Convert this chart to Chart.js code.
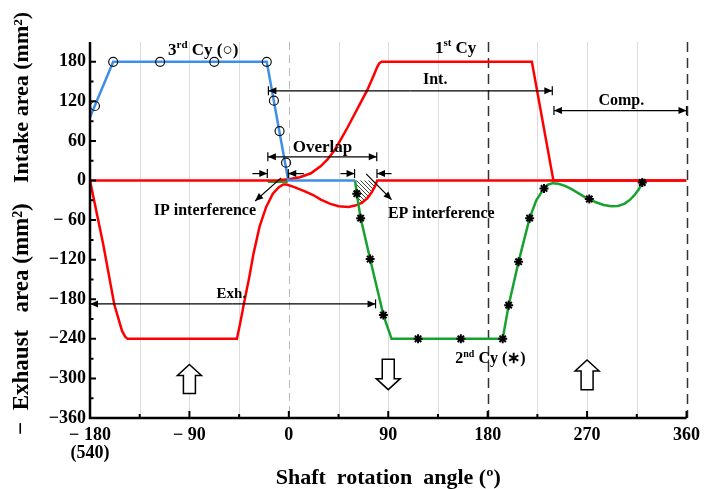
<!DOCTYPE html>
<html>
<head>
<meta charset="utf-8">
<script src="https://cdn.jsdelivr.net/npm/chart.js@4.4.1/dist/chart.umd.min.js"></script>
<style>
  html, body { margin: 0; padding: 0; background: #fff; }
  #wrap { width: 708px; height: 489px; }
</style>
</head>
<body>
<div id="wrap"><canvas id="chart" width="708" height="489"></canvas></div>
<script>
const FONT = '"Liberation Serif", "Times New Roman", serif';

// shaft angle (deg) / open area (mm2), exhaust is plotted negative
const intake1X = [-180, -19, -10, 0, 10, 20, 29, 35, 41, 47, 53, 59, 65, 71, 77, 80, 82, 84, 220, 239.5, 360];
const intake1Y = [0, 0, 0.5, 2, 5, 11, 22, 32, 45, 62, 80, 99, 118, 137, 160, 172, 178, 180, 180, 0, 0];

const exhaust1X = [-180, -168, -158, -151, -148, -146, -47, -44, -40.6, -36, -32, -26.5, -20.5, -14.5, -9, -5, -2, 5, 14, 22, 29, 37, 45, 54, 60, 66, 71, 75, 78, 80, 360];
const exhaust1Y = [0, -97, -188, -228, -237, -240, -240, -216, -186, -148, -111, -70, -40, -20, -10, -6, -6, -10, -16, -22, -29, -35, -39, -40, -38, -34, -27, -18, -9, 0, 0];

const intake3X = [-180, -159, -20, -0.5, 60];
const intake3Y = [96, 180, 180, 0, 0];
const intake3MarkX = [-175.5, -159, -116.5, -67.5, -20, -13.5, -8.4, -2.5];
const intake3MarkY = [113, 180, 180, 180, 180, 121, 75, 27];

const exhaust2X = [60, 61.5, 65, 73.6, 85.6, 93, 193.6, 199, 208, 218, 224, 231, 235, 239, 244, 250, 256, 262, 268, 272, 278, 285, 292, 298, 304, 309, 313, 317, 320];
const exhaust2Y = [0, -20, -57, -119, -204, -240, -240, -189, -123, -57, -30, -12, -6, -4, -5, -8, -13, -19, -25, -28, -33, -37, -39, -38.5, -35, -29, -22, -13, -3];
const exhaust2MarkX = [61.5, 65, 73.6, 85.6, 117, 155.7, 193.6, 199, 208, 218, 231, 272, 320];
const exhaust2MarkY = [-20, -57, -119, -204, -240, -240, -240, -189, -123, -57, -12, -28, -3];

const ipBitX = [-19, -1];
const ipBitY = [-1.5, -1.5];

const epHatchX = [60, 61.5, 63, 66, 71, 75, 78, 80];
const epHatchY = [0, -20, -36, -34, -27, -18, -9, 0];

const xTickValues = [-180, -90, 0, 90, 180, 270, 360];
const xTickLabels = [['− 180', '(540)'], '− 90', '0', '90', '180', '270', '360'];
const yTickValues = [180, 120, 60, 0, -60, -120, -180, -240, -300, -360];
const yTickLabels = ['180', '120', '60', '0', '− 60', '−120', '−180', '−240', '−300', '−360'];

const zip = (xs, ys) => xs.map((x, i) => ({ x, y: ys[i] }));

const hatch = (() => {
  const c = document.createElement('canvas');
  c.width = 4; c.height = 4;
  const g = c.getContext('2d');
  g.strokeStyle = '#444';
  g.lineWidth = 1;
  g.beginPath();
  g.moveTo(0, 0); g.lineTo(4, 4);
  g.moveTo(-1, 3); g.lineTo(1, 5);
  g.moveTo(3, -1); g.lineTo(5, 1);
  g.stroke();
  return g.createPattern(c, 'repeat');
})();

const arrowHead = (ctx, x, y, ang, len = 8, hw = 3.5) => {
  ctx.beginPath();
  ctx.moveTo(x, y);
  ctx.lineTo(x - len * Math.cos(ang) + hw * Math.sin(ang), y - len * Math.sin(ang) - hw * Math.cos(ang));
  ctx.lineTo(x - len * Math.cos(ang) - hw * Math.sin(ang), y - len * Math.sin(ang) + hw * Math.cos(ang));
  ctx.closePath();
  ctx.fill();
};

const arrow = (ctx, x1, y1, x2, y2, bar) => {
  ctx.beginPath();
  ctx.moveTo(x1, y1);
  ctx.lineTo(x2, y2);
  ctx.stroke();
  arrowHead(ctx, x2, y2, Math.atan2(y2 - y1, x2 - x1));
  if (bar) {
    ctx.beginPath();
    ctx.moveTo(x2, y2 - 4.5);
    ctx.lineTo(x2, y2 + 4.5);
    ctx.stroke();
  }
};

const drawRich = (ctx, parts, cx, cy, size) => {
  const fonts = parts.map(([, sup]) => `bold ${sup ? Math.round(size * 0.62) : size}px ${FONT}`);
  let w = 0;
  parts.forEach(([t], i) => { ctx.font = fonts[i]; w += ctx.measureText(t).width; });
  let x = cx - w / 2;
  ctx.textAlign = 'left';
  ctx.textBaseline = 'middle';
  parts.forEach(([t, sup], i) => {
    ctx.font = fonts[i];
    ctx.fillText(t, x, sup ? cy - size * 0.33 : cy);
    x += ctx.measureText(t).width;
  });
};

const hollowArrow = (ctx, px, yTip, yEnd) => {
  const dir = yEnd > yTip ? 1 : -1;
  const head = 11 * dir;
  ctx.beginPath();
  ctx.moveTo(px, yTip);
  ctx.lineTo(px + 12, yTip + head);
  ctx.lineTo(px + 6, yTip + head);
  ctx.lineTo(px + 6, yEnd);
  ctx.lineTo(px - 6, yEnd);
  ctx.lineTo(px - 6, yTip + head);
  ctx.lineTo(px - 12, yTip + head);
  ctx.closePath();
  ctx.fillStyle = '#fff';
  ctx.fill();
  ctx.lineWidth = 1.5;
  ctx.strokeStyle = '#000';
  ctx.stroke();
};

const decor = {
  id: 'decor',
  beforeDatasetsDraw(chart) {
    const { ctx, chartArea: a, scales: { x } } = chart;
    ctx.save();
    for (let v = -135; v <= 360; v += 45) {
      const px = Math.round(x.getPixelForValue(v)) + 0.5;
      if (v === 180 || v === 360) {
        ctx.strokeStyle = '#333'; ctx.lineWidth = 1.5; ctx.setLineDash([10, 6]);
      } else if (v === 0) {
        ctx.strokeStyle = '#bbb'; ctx.lineWidth = 1; ctx.setLineDash([8, 5]);
      } else {
        ctx.strokeStyle = '#dcdcdc'; ctx.lineWidth = 1; ctx.setLineDash([]);
      }
      ctx.beginPath();
      ctx.moveTo(px, a.top);
      ctx.lineTo(px, a.bottom);
      ctx.stroke();
    }
    ctx.restore();
  },
  afterDatasetsDraw(chart) {
    const { ctx, chartArea: a, scales: { x, y } } = chart;
    const X = v => x.getPixelForValue(v);
    const Y = v => y.getPixelForValue(v);
    ctx.save();
    ctx.setLineDash([]);

    // axes with inward ticks
    ctx.strokeStyle = '#000';
    ctx.lineWidth = 2.5;
    ctx.beginPath();
    ctx.moveTo(a.left, a.top);
    ctx.lineTo(a.left, a.bottom);
    ctx.lineTo(a.right, a.bottom);
    ctx.stroke();
    ctx.lineWidth = 2;
    ctx.beginPath();
    for (let v = -135; v <= 360; v += 45) {
      const len = v % 90 === 0 ? 7 : 4;
      ctx.moveTo(X(v), a.bottom);
      ctx.lineTo(X(v), a.bottom - len);
    }
    for (let v = -330; v <= 180; v += 30) {
      const len = v % 60 === 0 ? 6 : 3.5;
      ctx.moveTo(a.left, Y(v));
      ctx.lineTo(a.left + len, Y(v));
    }
    ctx.stroke();

    // stroke-phase dimension lines
    ctx.fillStyle = '#000';
    ctx.strokeStyle = '#000';
    ctx.lineWidth = 1.2;
    const dim = (x1, x2, v) => {
      const mid = (X(x1) + X(x2)) / 2;
      arrow(ctx, mid, Y(v), X(x1), Y(v), true);
      arrow(ctx, mid, Y(v), X(x2), Y(v), true);
    };
    dim(-18.5, 238.5, 136);
    dim(240, 360, 106);
    dim(-19, 79.6, 36);
    dim(-180, 78.5, -187);

    // interference markers
    arrow(ctx, X(-33), Y(10.5), X(-19.5), Y(10.5), true);
    arrow(ctx, X(13.6), Y(10.5), X(-0.5), Y(10.5), true);
    arrow(ctx, X(46.7), Y(10.5), X(59.5), Y(10.5), true);
    arrow(ctx, X(93), Y(10.5), X(79.8), Y(10.5), true);
    arrow(ctx, X(-7), Y(4), X(-30.5), Y(-31), false);
    arrow(ctx, X(70), Y(10), X(93), Y(-29), false);

    // stroke direction arrows
    hollowArrow(ctx, X(-90), Y(-279), Y(-323));
    hollowArrow(ctx, X(90), Y(-317), Y(-271));
    hollowArrow(ctx, X(270), Y(-272), Y(-317));

    // labels
    ctx.fillStyle = '#000';
    drawRich(ctx, [['3', false], ['rd', true], [' Cy (', false], ['○', false], [')', false]], X(-77.5), Y(197), 17);
    drawRich(ctx, [['1', false], ['st', true], [' Cy', false]], X(151), Y(200), 17);
    drawRich(ctx, [['2', false], ['nd', true], [' Cy (', false], ['∗', false], [')', false]], X(182.5), Y(-271), 16);
    drawRich(ctx, [['Int.', false]], X(132.5), Y(152), 16);
    drawRich(ctx, [['Comp.', false]], X(301), Y(121), 16);
    drawRich(ctx, [['Overlap', false]], X(30.5), Y(50), 17);
    drawRich(ctx, [['IP interference', false]], X(-76), Y(-46), 16);
    drawRich(ctx, [['EP interference', false]], X(138), Y(-51), 16);
    drawRich(ctx, [['Exh.', false]], X(-52), Y(-172), 15);

    // axis titles
    ctx.font = `bold 22px ${FONT}`;
    ctx.textAlign = 'center';
    ctx.textBaseline = 'middle';
    ctx.fillText('Shaft  rotation  angle (º)', (a.left + a.right) / 2, 478);
    ctx.translate(22, Y(126));
    ctx.rotate(-Math.PI / 2);
    ctx.fillText('Intake area (mm²)', 0, 0);
    ctx.rotate(Math.PI / 2);
    ctx.translate(0, Y(-210) - Y(126));
    ctx.rotate(-Math.PI / 2);
    ctx.font = `bold 23px ${FONT}`;
    ctx.fillText('−  Exhaust   area (mm²)', 0, 0);
    ctx.restore();
  }
};

const lineSet = (data, color, order, extra = {}) => ({
  data, order,
  borderColor: color,
  borderWidth: 2.5,
  pointRadius: 0,
  tension: 0,
  fill: false,
  ...extra,
});

new Chart(document.getElementById('chart'), {
  type: 'line',
  data: {
    datasets: [
      { data: zip(intake3MarkX, intake3MarkY), order: 0, showLine: false,
        pointStyle: 'circle', pointRadius: 4.5, pointBorderWidth: 1.2,
        pointBorderColor: '#111', pointBackgroundColor: 'rgba(0,0,0,0)' },
      { data: zip(exhaust2MarkX, exhaust2MarkY), order: 0, showLine: false,
        pointStyle: 'star', pointRadius: 4.5, pointBorderWidth: 2,
        pointBorderColor: '#000', pointBackgroundColor: '#000' },
      lineSet(zip(intake3X, intake3Y), '#3d8fe8', 1),
      lineSet(zip(exhaust2X, exhaust2Y), '#17a22f', 2),
      lineSet(zip(intake1X, intake1Y), '#ff0000', 3),
      lineSet(zip(exhaust1X, exhaust1Y), '#ff0000', 3),
      lineSet(zip(ipBitX, ipBitY), '#17a22f', 4, { borderWidth: 3 }),
      lineSet(zip(epHatchX, epHatchY), 'rgba(0,0,0,0)', 5, { borderWidth: 0, fill: 'origin', backgroundColor: hatch }),
    ],
  },
  options: {
    responsive: false,
    animation: false,
    layout: { padding: { top: 42, right: 15, left: 0, bottom: 0 } },
    plugins: { legend: { display: false }, tooltip: { enabled: false } },
    scales: {
      x: {
        type: 'linear',
        min: -180,
        max: 360,
        afterFit: s => { s.height = 71; },
        grid: { display: false, drawTicks: false },
        border: { display: false },
        ticks: {
          stepSize: 45,
          padding: 8,
          maxRotation: 0,
          autoSkip: false,
          color: '#000',
          font: { family: FONT, size: 18, weight: 'bold', lineHeight: 1.0 },
          callback: v => {
            const i = xTickValues.indexOf(v);
            return i >= 0 ? xTickLabels[i] : '';
          },
        },
      },
      y: {
        min: -360,
        max: 210,
        afterFit: s => { s.width = 90; },
        grid: { display: false, drawTicks: false },
        border: { display: false },
        ticks: {
          stepSize: 30,
          padding: 4,
          autoSkip: false,
          color: '#000',
          font: { family: FONT, size: 18, weight: 'bold' },
          callback: v => {
            const i = yTickValues.indexOf(v);
            return i >= 0 ? yTickLabels[i] : '';
          },
        },
      },
    },
  },
  plugins: [decor],
});
</script>
</body>
</html>
